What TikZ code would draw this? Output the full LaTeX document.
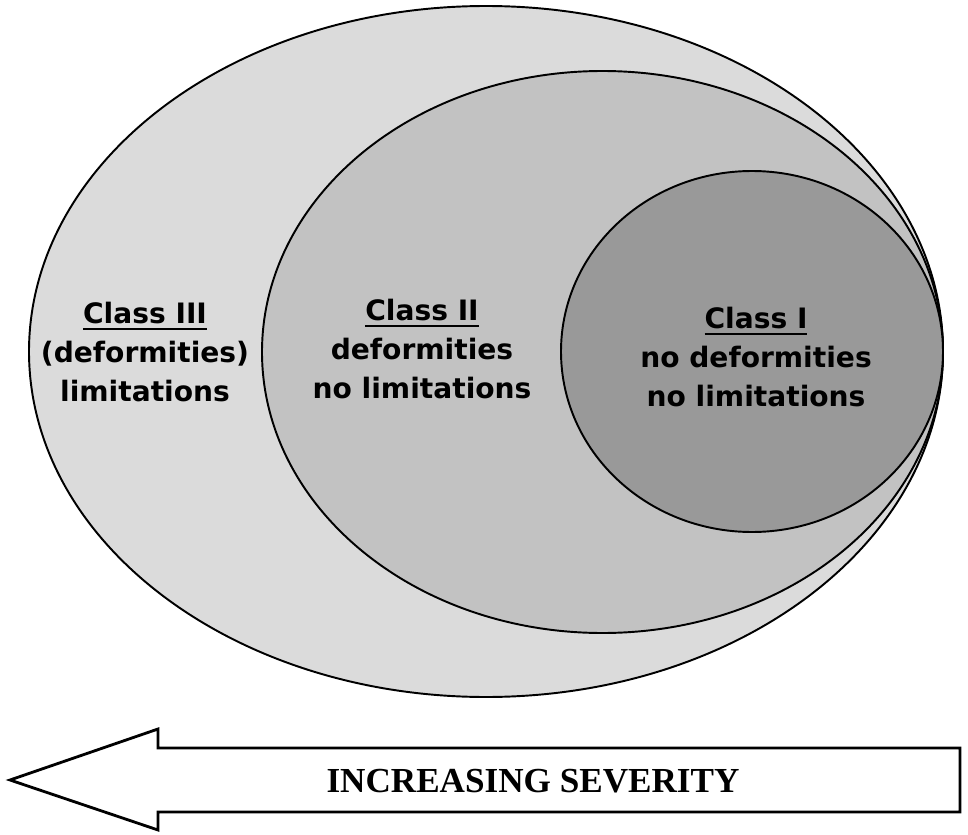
\documentclass[tikz,border=0pt]{standalone}
\usepackage{fontspec}
\setmainfont{Liberation Serif}
\newfontfamily\classfont{DejaVu Sans}
\newcommand{\ulclass}[1]{\setbox0\hbox{#1}\rlap{\rule[-3.6pt]{\wd0}{1.4pt}}\box0}

\begin{document}
\begin{tikzpicture}[x = 0.02cm, y = -0.02cm]
  % styles
  \tikzstyle{region} = [draw = black, line width = 1.1pt]
  \tikzstyle{class text} = [align = center, inner sep = 0pt,
    font = \classfont\bfseries\fontsize{16}{22}\selectfont]
  \tikzstyle{severity arrow} = [draw = black, line width = 1.6pt, fill = white]
  \colorlet{class3color}{black!14}
  \colorlet{class2color}{black!24}
  \colorlet{class1color}{black!40}

  \useasboundingbox (0, 0) rectangle (968, 835);

  % class III region
  \draw[region, fill = class3color] (486, 351.5) ellipse (457 and 345.5);

  % class II region
  \draw[region, fill = class2color] (602.5, 352) ellipse (340.5 and 281);

  % class I region
  \draw[region, fill = class1color] (752, 351.5) ellipse (191 and 180.5);

  % class labels
  \node[class text] (class3) at (145, 352) {\ulclass{Class III}\\(deformities)\\limitations};
  \node[class text] (class2) at (422, 349) {\ulclass{Class II}\\deformities\\no limitations};
  \node[class text] (class1) at (756, 357) {\ulclass{Class I}\\no deformities\\no limitations};

  % severity arrow
  \draw[severity arrow] (10, 780) -- (158, 729) -- (158, 748) -- (960, 748)
    -- (960, 812) -- (158, 812) -- (158, 830) -- cycle;
  \node[font = \bfseries\fontsize{20}{24}\selectfont] (severity) at (533, 781) {INCREASING SEVERITY};

\end{tikzpicture}
\end{document}
